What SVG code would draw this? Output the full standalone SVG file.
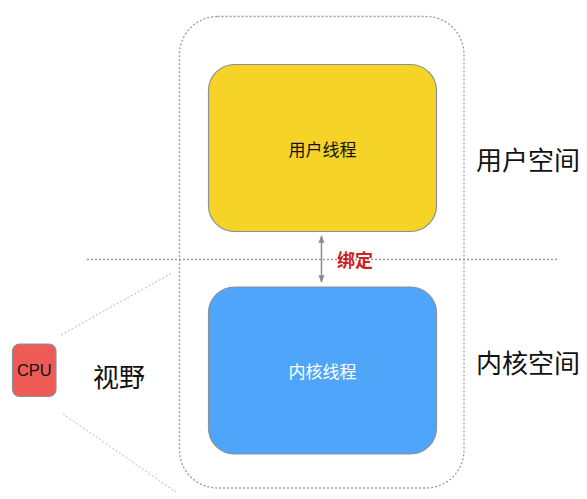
<svg xmlns="http://www.w3.org/2000/svg" width="587" height="499" viewBox="0 0 587 499">
<defs>
<style>
.dot{fill:none;stroke:#9a9a9a;stroke-width:1.3;stroke-dasharray:2 2}
.dotl{fill:none;stroke:#b8b8b8;stroke-width:1;stroke-dasharray:2 2}
.box{stroke:#8a8f99;stroke-width:1.2}
.t{font-family:"Noto Sans CJK SC","Liberation Sans",sans-serif;text-anchor:middle;dominant-baseline:central}
</style>
<marker id="ah" viewBox="0 0 10 10" refX="9" refY="5" markerWidth="5" markerHeight="5" orient="auto-start-reverse">
<path d="M0,1 L10,5 L0,9 z" fill="#8a8a8a"/>
</marker>
</defs>
<rect width="587" height="499" fill="#ffffff"/>
<g id="container">
<rect class="dot" x="179.5" y="16.5" width="284.5" height="471.5" rx="38"/>
</g>
<g id="connectors">
<line class="dot" x1="87" y1="259.5" x2="558" y2="259.5"/>
<line class="dotl" x1="61" y1="335" x2="172" y2="273"/>
<line class="dotl" x1="63" y1="414" x2="176" y2="492"/>
<line x1="321.5" y1="236" x2="321.5" y2="282" stroke="#8a8a8a" stroke-width="1.5" marker-start="url(#ah)" marker-end="url(#ah)"/>
<text class="t" x="355" y="259" font-size="18" font-weight="bold" fill="#d0211c">绑定</text>
</g>
<g id="user-thread">
<rect class="box" x="208.5" y="64.5" width="228" height="167" rx="26" fill="#f5d327"/>
<text class="t" x="322.5" y="148" font-size="17" fill="#111">用户线程</text>
</g>
<g id="kernel-thread">
<rect class="box" x="208.5" y="287" width="228" height="167" rx="26" fill="#4fa5f9"/>
<text class="t" x="322.5" y="370.5" font-size="17" fill="#ffffff">内核线程</text>
</g>
<g id="cpu">
<rect class="box" x="12.5" y="344" width="43.5" height="52.5" rx="7" fill="#ee5b57"/>
<text x="34.3" y="376" font-size="16.5" fill="#111" font-family="'Liberation Sans',sans-serif" text-anchor="middle">CPU</text>
</g>
<g id="labels">
<text class="t" x="119" y="375.5" font-size="26" fill="#111">视野</text>
<text class="t" x="528" y="158" font-size="26" fill="#111">用户空间</text>
<text class="t" x="528" y="361" font-size="26" fill="#111">内核空间</text>
</g>
</svg>
